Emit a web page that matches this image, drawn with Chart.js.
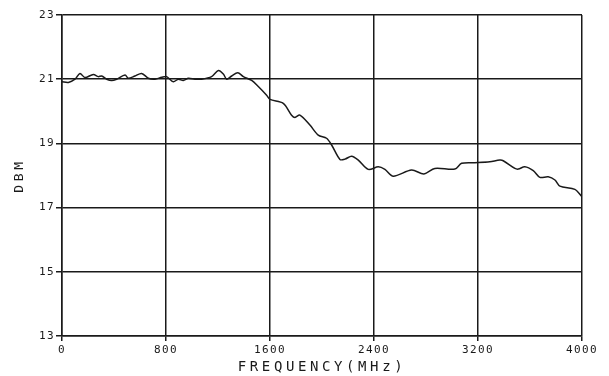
<!DOCTYPE html>
<html lang="en">
<head>
    <meta charset="UTF-8">
    <title>DBM vs Frequency</title>
    <script src="https://cdn.jsdelivr.net/npm/chart.js"></script>
    <style>
        body { margin: 0; background: #fff; }
    </style>
</head>
<body>
    <canvas id="chartContainer" width="609" height="376"></canvas>

    <script>
        // frequency in MHz, level in dBm
        const freqMHz = [0, 49, 100, 138, 177, 241, 279, 305, 344, 382, 420, 485, 510, 561, 613, 664, 715, 767, 805, 856, 895, 933, 972, 1023, 1074, 1151, 1203, 1241, 1267, 1305, 1352, 1395, 1459, 1510, 1574, 1600, 1702, 1766, 1792, 1830, 1907, 1971, 2035, 2074, 2138, 2177, 2228, 2279, 2356, 2433, 2484, 2548, 2689, 2784, 2868, 3022, 3074, 3176, 3291, 3368, 3394, 3484, 3510, 3560, 3625, 3676, 3740, 3792, 3830, 3945, 4000];
        const levelDbm = [20.92, 20.9, 21.0, 21.18, 21.05, 21.15, 21.08, 21.1, 21.0, 20.96, 21.0, 21.13, 21.03, 21.1, 21.18, 21.03, 21.0, 21.06, 21.08, 20.92, 21.0, 20.96, 21.03, 21.0, 21.0, 21.08, 21.27, 21.16, 21.0, 21.1, 21.2, 21.08, 20.96, 20.77, 20.5, 20.37, 20.25, 19.88, 19.81, 19.88, 19.57, 19.26, 19.16, 18.95, 18.5, 18.51, 18.6, 18.48, 18.19, 18.27, 18.19, 17.98, 18.17, 18.05, 18.22, 18.2, 18.38, 18.4, 18.43, 18.48, 18.46, 18.22, 18.2, 18.27, 18.15, 17.94, 17.96, 17.86, 17.67, 17.57, 17.34];

        const xTicks = [0, 800, 1600, 2400, 3200, 4000];
        const yTicks = [13, 15, 17, 19, 21, 23];

        const ink = '#1a1a1a';
        const tickFont = { family: 'DejaVu Sans Mono', size: 11 };

        const points = freqMHz.map((f, i) => ({ x: f, y: levelDbm[i] }));

        // plotter lettering is widely spaced: titles get more spacing than tick labels
        // (titles are drawn in the grid layer, labels after the datasets since ticks.z = 1)
        const plotterSpacing = {
            id: 'plotterSpacing',
            beforeDraw(chart) { chart.ctx.letterSpacing = '3.6px'; },
            afterDatasetsDraw(chart) { chart.ctx.letterSpacing = '1.4px'; }
        };

        const ctx = document.getElementById('chartContainer').getContext('2d');
        const myChart = new Chart(ctx, {
            type: 'line',
            data: {
                datasets: [{
                    data: points,
                    borderColor: ink,
                    borderWidth: 1.5,
                    pointRadius: 0,
                    tension: 0.3,
                    fill: false
                }]
            },
            plugins: [plotterSpacing],
            options: {
                responsive: false,
                animation: false,
                events: [],
                layout: { padding: { top: 15, right: 27, left: 0, bottom: 0 } },
                plugins: {
                    legend: { display: false },
                    tooltip: { enabled: false }
                },
                scales: {
                    x: {
                        type: 'linear',
                        min: 0,
                        max: 4000,
                        afterBuildTicks: axis => { axis.ticks = xTicks.map(v => ({ value: v })); },
                        afterFit: axis => { axis.height = 40; },
                        grid: { color: ink, lineWidth: 1.5, tickLength: 5 },
                        border: { color: ink, width: 1.5 },
                        ticks: { color: ink, font: tickFont, padding: 3, maxRotation: 0, z: 1, callback: v => String(v) },
                        title: {
                            display: true,
                            text: 'FREQUENCY(MHz)',
                            color: ink,
                            font: { family: 'DejaVu Sans Mono', size: 14 },
                            padding: { top: 2, bottom: 0 }
                        }
                    },
                    y: {
                        type: 'linear',
                        min: 13,
                        max: 23,
                        afterBuildTicks: axis => { axis.ticks = yTicks.map(v => ({ value: v })); },
                        afterFit: axis => { axis.width = 62; },
                        grid: { color: ink, lineWidth: 1.5, tickLength: 6 },
                        border: { color: ink, width: 1.5 },
                        ticks: { color: ink, font: tickFont, padding: 1, z: 1, callback: v => String(v) },
                        title: {
                            display: true,
                            text: 'DBM',
                            color: ink,
                            font: { family: 'DejaVu Sans Mono', size: 13 },
                            padding: { top: 12, bottom: 0 }
                        }
                    }
                }
            }
        });
    </script>
</body>
</html>
